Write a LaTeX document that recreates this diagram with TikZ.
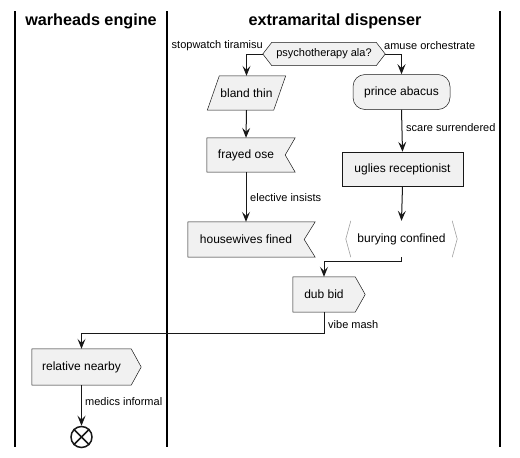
\documentclass[tikz,border=0pt]{standalone}
\usepackage{fontspec}
\setmainfont{Liberation Sans}
\usetikzlibrary{arrows.meta,calc,backgrounds}
\definecolor{nodefill}{HTML}{F1F1F1}
\definecolor{nodeline}{HTML}{181818}
\definecolor{softline}{HTML}{A0A0A0}
\begin{document}
\begin{tikzpicture}[x=1pt,y=-1pt,
  box/.style={rectangle,draw=none,inner sep=0pt,font=\fontsize{12}{14}\selectfont},
  shp/.style={fill=nodefill,draw=nodeline,line width=0.5pt},
  lbl/.style={inner sep=0pt,font=\fontsize{11}{13}\selectfont},
  flow/.style={draw=nodeline,line width=1pt,-{Stealth[length=10pt,width=8pt,inset=4pt]}},
  lane/.style={line width=1.5pt},
  lanetitle/.style={inner sep=0pt,font=\fontsize{16.2}{19}\selectfont\bfseries}]
\useasboundingbox (0,0) rectangle (520,458);

% swimlanes
\draw[lane] (15,11) -- (15,447);
\draw[lane] (167,11) -- (167,447);
\draw[lane] (500,11) -- (500,447);
\node[lanetitle] (t1) at (91,21) {warheads engine};
\node[lanetitle] (t2) at (335,21) {extramarital dispenser};

% nodes
\node[box,font=\fontsize{11}{13}\selectfont,minimum width=104pt,minimum height=23pt] (dec) at (324,54) {psychotherapy ala?};
\node[box,minimum width=66pt,minimum height=34pt] (bland) at (246.5,93) {bland thin};
\node[box,shp,rounded corners=12pt,minimum width=97pt,minimum height=35pt] (prince) at (401.5,92) {prince abacus};
\node[box,minimum width=78pt,minimum height=34pt] (frayed) at (246,155) {frayed ose};
\node[box,shp,minimum width=121pt,minimum height=34pt] (ugl) at (402.5,169) {uglies receptionist};
\node[box,minimum width=116pt,minimum height=35pt] (house) at (246,239.5) {housewives fined};
\node[box,minimum width=101pt,minimum height=36pt] (bury) at (401.5,239) {burying confined};
\node[box,minimum width=62pt,minimum height=35pt] (dub) at (324,294.5) {dub bid};
\node[box,minimum width=99pt,minimum height=36pt] (rel) at (81.5,367) {relative nearby};
\node[circle,draw=nodeline,line width=1.5pt,minimum size=21pt,inner sep=0pt] (fin) at (81.5,437) {};
\draw[nodeline,line width=1.5pt] (fin.north west) -- (fin.south east);
\draw[nodeline,line width=1.5pt] (fin.north east) -- (fin.south west);

% shapes on background
\begin{scope}[on background layer]
\draw[shp] ($(dec.north west)$) -- (dec.north east) -- ($(dec.east)+(9,0)$) -- (dec.south east) -- (dec.south west) -- ($(dec.west)+(-9,0)$) -- cycle;
\draw[shp] ($(bland.north west)+(6,0)$) -- ($(bland.north east)+(6,0)$) -- ($(bland.south east)+(-6,0)$) -- ($(bland.south west)+(-6,0)$) -- cycle;
\draw[shp] (frayed.north west) -- ($(frayed.north east)+(10,0)$) -- (frayed.east) -- ($(frayed.south east)+(10,0)$) -- (frayed.south west) -- cycle;
\draw[shp] (house.north west) -- ($(house.north east)+(11,0)$) -- (house.east) -- ($(house.south east)+(11,0)$) -- (house.south west) -- cycle;
\draw[softline,line width=0.6pt] (bury.north west) -- ($(bury.west)+(-5,0)$) -- (bury.south west);
\draw[softline,line width=0.6pt] (bury.north east) -- ($(bury.east)+(5,0)$) -- (bury.south east);
\draw[shp] (dub.north west) -- (dub.north east) -- ($(dub.east)+(10,0)$) -- (dub.south east) -- (dub.south west) -- cycle;
\draw[shp] (rel.north west) -- (rel.north east) -- ($(rel.east)+(10,0)$) -- (rel.south east) -- (rel.south west) -- cycle;
\end{scope}

% connectors
\draw[flow] ($(dec.west)+(-9,0)$) -| (bland.north);
\draw[flow] ($(dec.east)+(9,0)$) -| (prince.north);
\draw[flow] (bland.south) -- (frayed.north);
\draw[flow] (prince.south) -- (ugl.north);
\draw[flow] (frayed.south) -- (house.north);
\draw[flow] (ugl.south) -- (bury.north);
\draw[flow] (bury.south) |- ($(dub.north)+(0,-15)$) -- (dub.north);
\draw[flow] (dub.south) |- ($(rel.north)+(0,-15)$) -- (rel.north);
\draw[flow] (rel.south) -- (fin.north);

% labels
\node[lbl,anchor=east] (l1) at (263,46) {stopwatch tiramisu};
\node[lbl,anchor=west] (l2) at (384,46) {amuse orchestrate};
\node[lbl,anchor=west] (l3) at (406,128) {scare surrendered};
\node[lbl,anchor=west] (l4) at (250,198) {elective insists};
\node[lbl,anchor=west] (l5) at (328,325) {vibe mash};
\node[lbl,anchor=west] (l6) at (85,402) {medics informal};
\end{tikzpicture}
\end{document}
